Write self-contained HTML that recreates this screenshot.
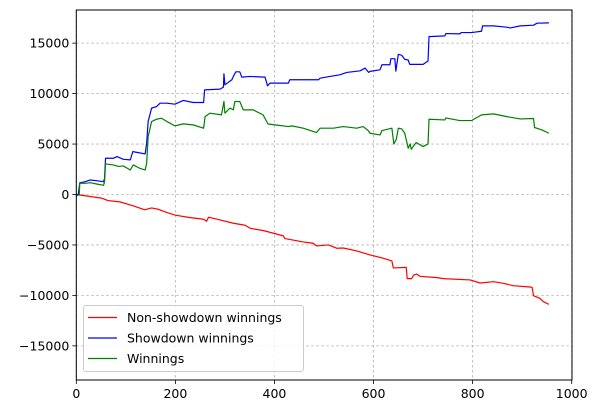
<!DOCTYPE html>
<html><head><meta charset="utf-8"><style>
html,body{margin:0;padding:0;background:#fff;}
svg{display:block;font-family:"DejaVu Sans","Liberation Sans",sans-serif;}
</style></head><body>
<svg id="chart" width="598" height="413" viewBox="0 0 598 413" xmlns="http://www.w3.org/2000/svg"></svg>
<script>
const xTicks = [0, 200, 400, 600, 800, 1000];
const yTicks = [-15000, -10000, -5000, 0, 5000, 10000, 15000];
const seriesNames = ["Non-showdown winnings", "Showdown winnings", "Winnings"];
const seriesColors = ["#ff0000", "#0000ff", "#008000"];
const nonShowdownX = [0,28,51,64,88,115,138,152,165,183,200,230,257,263,267,290,317,341,351,378,398,418,421,458,478,485,509,526,539,566,593,620,637,640,666,668,677,681,687,694,728,741,795,815,842,862,882,916,920,923,936,943,954];
const nonShowdownY = [0,-200,-360,-600,-730,-1120,-1520,-1330,-1460,-1790,-2050,-2290,-2450,-2650,-2250,-2520,-2850,-3050,-3350,-3580,-3840,-4100,-4370,-4700,-4830,-5100,-5000,-5330,-5300,-5590,-5990,-6320,-6590,-7280,-7220,-8340,-8340,-7980,-7880,-8110,-8240,-8340,-8470,-8770,-8640,-8800,-9040,-9170,-9200,-10030,-10300,-10620,-10890];
const showdownX = [0,4,7,18,28,41,55,57,59,75,82,95,109,114,125,139,142,145,152,162,169,183,199,216,236,257,259,290,297,298,300,314,317,322,330,334,351,381,386,391,428,431,489,492,512,532,546,573,583,590,593,613,617,633,635,643,645,650,657,663,670,673,700,710,712,744,746,774,777,798,818,820,842,869,876,896,923,930,954];
const showdownY = [0,0,1160,1270,1440,1370,1270,1600,3590,3590,3760,3490,3430,4250,4150,4020,5080,7230,8560,8720,9050,9050,8950,9320,9120,9120,10370,10440,10640,11960,10870,11370,11700,12160,12160,11630,11700,11630,10770,11040,11040,11370,11370,11530,11700,11860,12100,12260,12530,12100,12200,12360,12860,12860,13460,13460,12230,13890,13790,13390,13330,12900,12900,13230,15650,15720,15950,15920,16050,16050,16180,16710,16710,16580,16510,16710,16780,16980,17010];
const winningsX = [0,6,7,18,28,41,55,57,59,75,85,95,109,115,128,139,142,145,152,162,172,183,199,216,236,257,260,270,293,298,300,310,317,320,330,337,357,377,387,401,428,435,458,485,492,519,539,566,579,589,593,613,617,637,641,646,650,657,663,670,674,676,686,700,710,712,744,746,774,798,818,842,869,896,923,925,940,954];
const winningsY = [-160,0,1110,1110,1170,1040,910,1270,3030,2930,2780,2830,2430,2930,2600,2430,3080,5730,7230,7460,7560,7230,6800,7000,6900,6570,7720,8060,7890,9220,8060,8560,8390,9220,9220,8390,8390,7890,6990,6900,6730,6800,6570,6140,6570,6570,6730,6570,6730,6340,6070,5900,6340,6570,5010,5480,6570,6500,6070,4580,5010,4480,5150,4750,5010,7460,7390,7590,7330,7330,7890,7990,7720,7490,7530,6640,6400,6070];

const L=76.3,R=572,T=10,B=380;
const sx=v=>L+(v-0)/(1000-0)*(571.7-L);
const sy=v=>194.5-v*0.01009;
const svg=document.getElementById('chart');
const NS='http://www.w3.org/2000/svg';
function mk(tag,attrs,parent){const e=document.createElementNS(NS,tag);for(const k in attrs)e.setAttribute(k,attrs[k]);(parent||svg).appendChild(e);return e;}

// grid
xTicks.forEach(t=>{const g=mk('line',{x1:sx(t),x2:sx(t),y1:T,y2:B,stroke:'#b0b0b0','stroke-width':0.8,'stroke-dasharray':'2.5,2.5'});

});
yTicks.forEach(t=>{const g=mk('line',{x1:L,x2:R,y1:sy(t),y2:sy(t),stroke:'#b0b0b0','stroke-width':0.8,'stroke-dasharray':'2.5,2.5'});

});

// series
const allX=[nonShowdownX,showdownX,winningsX], allY=[nonShowdownY,showdownY,winningsY];
const sNames=['non-showdown-line','showdown-line','winnings-line'];
for(let s=0;s<3;s++){
  let d='';
  for(let i=0;i<allX[s].length;i++){d+=(i?'L':'M')+sx(allX[s][i]).toFixed(2)+','+sy(allY[s][i]).toFixed(2);}
  const p=mk('path',{d:d,fill:'none',stroke:seriesColors[s],'stroke-width':1.2,'stroke-linejoin':'round'});
  
  
}

// axes frame
const fr=mk('rect',{x:L,y:T,width:R-L,height:B-T,fill:'none',stroke:'#000','stroke-width':1});



// ticks
xTicks.forEach(t=>{
  mk('line',{x1:sx(t),x2:sx(t),y1:B,y2:B+4,stroke:'#000','stroke-width':0.8});
  const tx=mk('text',{x:sx(t),y:B+18,'text-anchor':'middle','font-size':12.5,fill:'#000'});
  tx.textContent=t;
  
  
});
yTicks.forEach(t=>{
  mk('line',{x1:L-4,x2:L,y1:sy(t),y2:sy(t),stroke:'#000','stroke-width':0.8});
  const tx=mk('text',{x:L-7,y:sy(t)+4.5,'text-anchor':'end','font-size':12.5,fill:'#000'});
  tx.textContent=(t<0?'\u2212'+Math.abs(t):t);
  
  
});

// legend
const lg=mk('g',{});


mk('rect',{x:83.5,y:305.5,width:220,height:66,rx:2.5,fill:'#fff','fill-opacity':0.8,stroke:'#cccccc','stroke-width':1},lg);
const legNames=['legend-entry-non-showdown','legend-entry-showdown','legend-entry-winnings'];
for(let s=0;s<3;s++){
  const yy=317.5+s*20.5;
  const e=mk('g',{},lg);
  
  
  mk('line',{x1:88,x2:117,y1:yy,y2:yy,stroke:seriesColors[s],'stroke-width':1.2},e);
  const tx=mk('text',{x:127,y:yy+4.5,'font-size':12.5,fill:'#000'},e);
  tx.textContent=seriesNames[s];
}
</script>
</body></html>
